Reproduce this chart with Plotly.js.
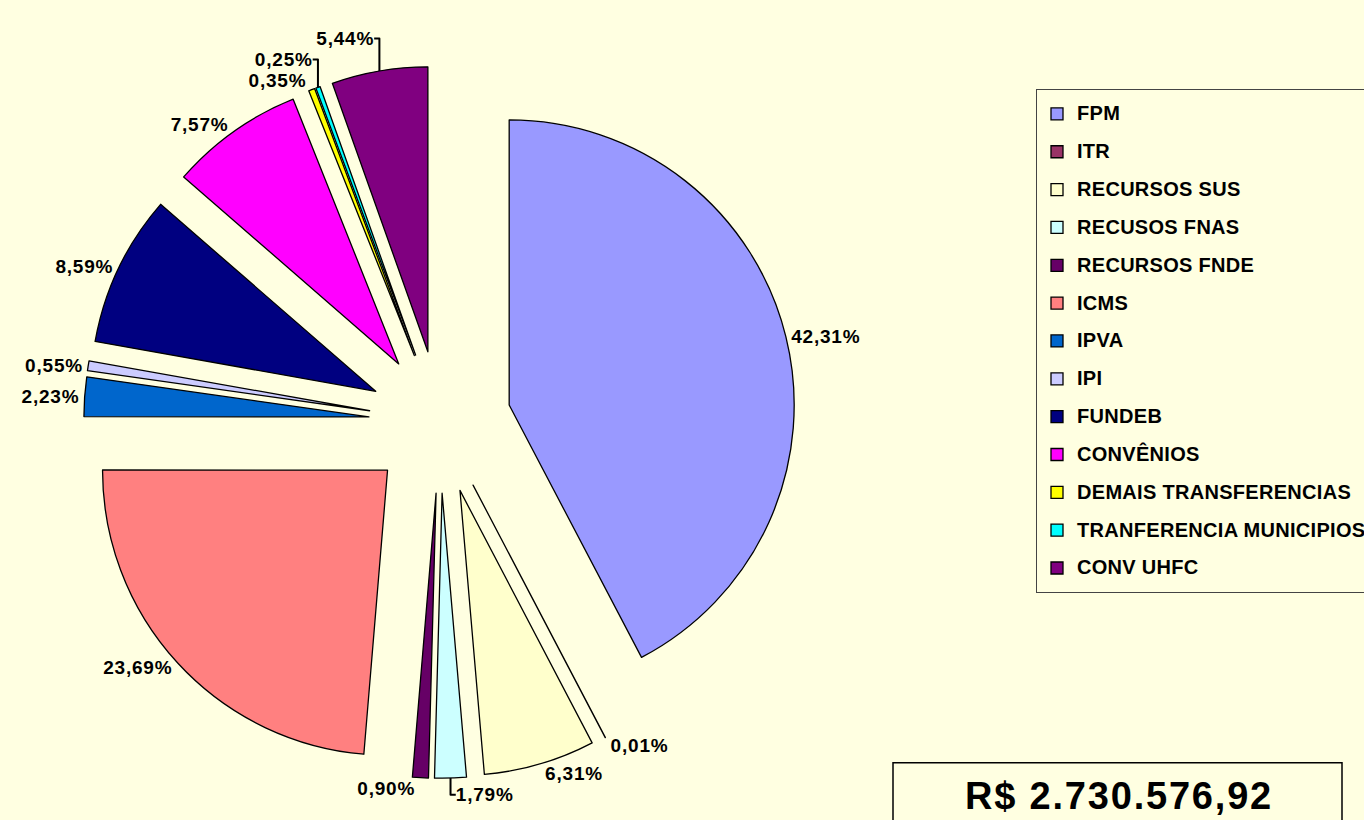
<!DOCTYPE html>
<html>
<head>
<meta charset="utf-8">
<script src="https://cdn.plot.ly/plotly-3.0.1.min.js"></script>
<style>html,body{margin:0;padding:0;background:#FFFFE1;}</style>
</head>
<body>
<div id="chart" style="width:1364px;height:820px;"></div>
<script>
const categories = ["FPM","ITR","RECURSOS SUS","RECUSOS FNAS","RECURSOS FNDE","ICMS","IPVA","IPI","FUNDEB","CONVÊNIOS","DEMAIS TRANSFERENCIAS","TRANFERENCIA MUNICIPIOS","CONV UHFC"];
const shares = [42.31, 0.01, 6.31, 1.79, 0.90, 23.69, 2.23, 0.55, 8.59, 7.57, 0.35, 0.25, 5.44];
const sliceColors = ["#9999FF","#993366","#FFFFCC","#CCFFFF","#660066","#FF8080","#0066CC","#CCCCFF","#000080","#FF00FF","#FFFF00","#00FFFF","#800080"];
const totalLabel = "R$ 2.730.576,92";

const W = 1364, H = 820;
const bg = "#FFFFE1";
const cx = 440, cy = 422, R = 285, pull = 0.25;
const half = R * (1 + pull);

const fmtPct = v => v.toFixed(2).replace('.', ',') + '%';

const trace = {
  type: "pie",
  labels: categories.map(c => '<span style="font-size:20px;letter-spacing:0.3px;baseline-shift:4px">' + c + '</span>'),
  values: shares,
  text: shares.map(v => '<span style="letter-spacing:0.8px">' + fmtPct(v) + '</span>'),
  textinfo: "text",
  textposition: "outside",
  outsidetextfont: {family: "Liberation Sans, Arial, sans-serif", size: 19, color: "#000", weight: "bold"},
  sort: false,
  direction: "clockwise",
  rotation: 0,
  pull: shares.map(() => pull),
  marker: {colors: sliceColors, line: {color: "#000", width: 1.3}},
  hoverinfo: "label+text",
  domain: {x: [(cx - half) / W, (cx + half) / W], y: [1 - (cy + half) / H, 1 - (cy - half) / H]}
};

const layout = {
  width: W, height: H,
  margin: {l: 0, r: 0, t: 0, b: 0, autoexpand: false},
  paper_bgcolor: bg, plot_bgcolor: bg,
  font: {family: "Liberation Sans, Arial, sans-serif", color: "#000"},
  showlegend: true,
  legend: {
    x: 1036 / W, y: 1 - 89 / H, xanchor: "left", yanchor: "top",
    bgcolor: bg, bordercolor: "#444", borderwidth: 1,
    font: {family: "Liberation Sans, Arial, sans-serif", size: 26.8, color: "#000", weight: "bold"}
  },
  shapes: [{
    type: "rect", xref: "paper", yref: "paper",
    x0: 893 / W, x1: 1342 / W, y0: -0.2, y1: 1 - 762.7 / H,
    line: {color: "#000", width: 1.5}, fillcolor: bg, layer: "below"
  }],
  annotations: [{
    xref: "paper", yref: "paper", x: 1119 / W, y: 1 - 795.5 / H,
    xanchor: "center", yanchor: "middle", showarrow: false,
    text: '<span style="letter-spacing:1.8px">' + totalLabel + '</span>',
    font: {family: "Liberation Sans, Arial, sans-serif", size: 38, color: "#000", weight: "bold"}
  }]
};

Plotly.newPlot("chart", [trace], layout, {displayModeBar: false, staticPlot: true});
</script>
</body>
</html>
